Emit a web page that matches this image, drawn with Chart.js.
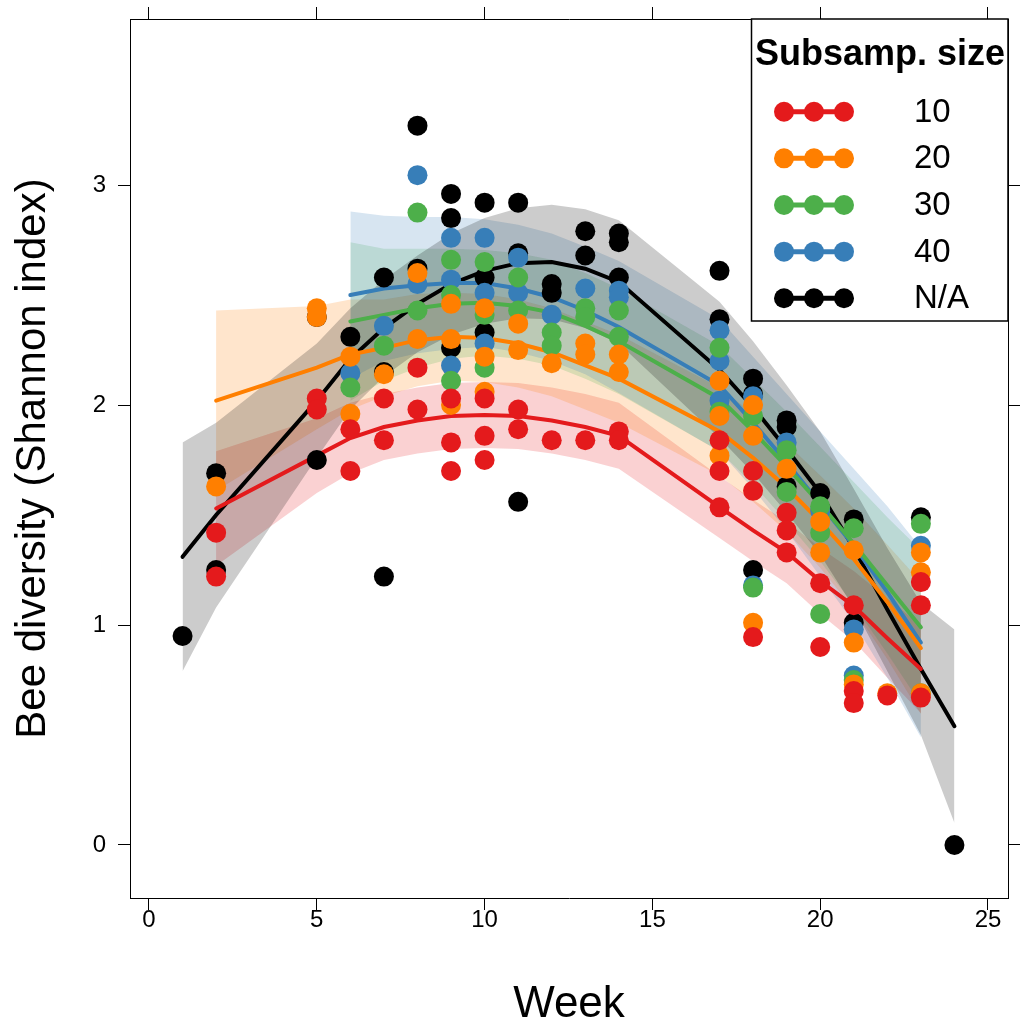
<!DOCTYPE html>
<html><head><meta charset="utf-8">
<script src="https://cdn.jsdelivr.net/npm/chart.js@4.4.0/dist/chart.umd.min.js"></script>
<style>html,body{margin:0;padding:0;background:#fff}#wrap{width:1023px;height:1029px}</style>
</head><body><div id="wrap"><canvas id="c" width="1023" height="1029"></canvas></div>
<script>
// ---------- data ----------
const seriesNames = ['10', '20', '30', '40', 'N/A'];
const seriesColors = ['#E41A1C', '#FF7F00', '#4DAF4A', '#377EB8', '#000000'];
const bandColors = ['rgba(228,26,28,0.2)', 'rgba(255,127,0,0.2)', 'rgba(77,175,74,0.2)', 'rgba(55,126,184,0.2)', 'rgba(0,0,0,0.2)'];
const legendTitle = 'Subsamp. size';
const xTitle = 'Week';
const yTitle = 'Bee diversity (Shannon index)';
const xTickVals = [0, 5, 10, 15, 20, 25];
const yTickVals = [0, 1, 2, 3];

// observed points [week, Shannon index]
const pts10 = [[2,1.42],[2,1.22],[5,2.03],[5,1.98],[6,1.89],[6,1.70],[7,2.03],[7,1.84],[8,2.17],[8,1.98],
  [9,2.03],[9,1.83],[9,1.70],[10,2.03],[10,1.86],[10,1.75],[11,1.98],[11,1.89],[12,1.84],[13,1.84],
  [14,1.88],[14,1.84],[17,1.84],[17,1.70],[17,1.535],[18,1.70],[18,1.61],[18,0.945],[19,1.51],[19,1.43],
  [19,1.33],[20,1.19],[20,0.90],[21,1.09],[21,0.70],[21,0.645],[22,0.68],[23,1.195],[23,1.09],[23,0.67]];
const pts20 = [[2,1.63],[5,2.44],[5,2.40],[6,2.22],[6,1.96],[7,2.14],[8,2.60],[8,2.30],[9,2.46],[9,2.30],
  [9,2.00],[10,2.44],[10,2.22],[10,2.06],[11,2.37],[11,2.25],[12,2.19],[13,2.28],[13,2.23],[14,2.23],
  [14,2.15],[17,2.11],[17,1.95],[17,1.77],[18,2.00],[18,1.86],[18,1.01],[19,1.71],[20,1.47],[20,1.33],
  [21,1.34],[21,0.92],[21,0.73],[22,0.69],[23,1.33],[23,1.24],[23,0.69]];
const pts30 = [[6,2.08],[7,2.27],[8,2.875],[8,2.43],[9,2.66],[9,2.50],[9,2.11],[10,2.65],[10,2.41],[10,2.17],
  [11,2.58],[11,2.43],[12,2.33],[12,2.27],[13,2.44],[13,2.40],[14,2.43],[14,2.31],[17,2.26],[17,1.97],
  [18,1.95],[18,1.17],[19,1.795],[19,1.605],[20,1.54],[20,1.42],[20,1.05],[21,1.44],[21,0.75],[23,1.46],[23,0.69]];
const pts40 = [[6,2.145],[7,2.36],[8,3.045],[8,2.55],[9,2.76],[9,2.57],[9,2.18],[10,2.76],[10,2.51],[10,2.28],
  [11,2.67],[11,2.51],[12,2.41],[13,2.53],[14,2.52],[14,2.49],[17,2.34],[17,2.20],[17,2.02],[18,2.04],
  [18,1.18],[19,1.83],[20,1.52],[21,0.98],[21,0.77],[23,1.36]];
const ptsNA = [[1,0.95],[2,1.69],[2,1.25],[5,2.40],[5,1.75],[6,2.31],[7,2.58],[7,2.15],[7,1.22],[8,3.27],
  [8,2.62],[9,2.96],[9,2.85],[9,2.26],[10,2.92],[10,2.58],[10,2.33],[11,2.92],[11,2.69],[11,1.56],
  [12,2.55],[12,2.51],[13,2.79],[13,2.68],[14,2.78],[14,2.74],[14,2.58],[17,2.61],[17,2.39],[18,2.12],
  [18,2.05],[18,1.25],[19,1.93],[19,1.90],[19,1.63],[20,1.60],[21,1.48],[21,1.01],[23,1.49],[24,0.00]];

// fitted curves and confidence bands
const fitWeeksA = [2,5,6,7,8,9,10,11,12,13,14,17,18,19,20,21,22,23];
const fitWeeksB = [6,7,8,9,10,11,12,13,14,17,18,19,20,21,22,23];
const fitWeeksNA = [1,2,5,6,7,8,9,10,11,12,13,14,17,18,19,20,21,22,23,24];

const fit10 = [1.53,1.77,1.85,1.90,1.93,1.95,1.955,1.95,1.93,1.90,1.86,1.536,1.43,1.33,1.20,1.086,0.94,0.80];
const hi10  = [1.79,1.94,2.01,2.05,2.08,2.10,2.105,2.10,2.08,2.05,2.01,1.676,1.57,1.47,1.35,1.246,1.12,1.00];
const lo10  = [1.27,1.60,1.69,1.75,1.78,1.80,1.805,1.80,1.78,1.75,1.71,1.396,1.29,1.19,1.05,0.926,0.76,0.60];

const fit20 = [2.02,2.17,2.23,2.26,2.295,2.31,2.305,2.28,2.24,2.18,2.12,1.88,1.76,1.625,1.47,1.30,1.105,0.895];
const hi20  = [2.43,2.45,2.48,2.48,2.505,2.51,2.505,2.48,2.44,2.38,2.32,2.08,1.96,1.825,1.68,1.53,1.365,1.195];
const lo20  = [1.61,1.89,1.98,2.04,2.085,2.11,2.105,2.08,2.04,1.98,1.92,1.68,1.56,1.425,1.26,1.07,0.845,0.595];

const fit30 = [2.38,2.41,2.44,2.46,2.465,2.45,2.42,2.36,2.29,2.03,1.88,1.72,1.55,1.37,1.18,0.99];
const hi30  = [2.74,2.71,2.71,2.71,2.705,2.69,2.66,2.60,2.53,2.27,2.12,1.97,1.81,1.65,1.49,1.34];
const lo30  = [2.02,2.11,2.17,2.21,2.225,2.21,2.18,2.12,2.05,1.79,1.64,1.47,1.29,1.09,0.87,0.64];

const fit40 = [2.50,2.53,2.545,2.555,2.555,2.53,2.49,2.43,2.355,2.09,1.92,1.74,1.55,1.36,1.15,0.92];
const hi40  = [2.88,2.86,2.855,2.855,2.845,2.82,2.78,2.72,2.655,2.39,2.22,2.05,1.88,1.71,1.54,1.35];
const lo40  = [2.12,2.20,2.235,2.255,2.265,2.24,2.20,2.14,2.055,1.79,1.62,1.43,1.22,1.01,0.76,0.49];

const fitNA = [1.31,1.50,2.02,2.21,2.35,2.46,2.55,2.61,2.645,2.65,2.62,2.56,2.16,1.99,1.80,1.60,1.35,1.07,0.80,0.54];
const hiNA  = [1.83,1.92,2.28,2.44,2.57,2.68,2.78,2.85,2.895,2.91,2.89,2.84,2.47,2.29,2.09,1.88,1.62,1.35,1.10,0.98];
const loNA  = [0.79,1.08,1.76,1.98,2.13,2.24,2.32,2.37,2.395,2.39,2.35,2.28,1.85,1.69,1.51,1.32,1.08,0.79,0.50,0.10];

// ---------- build ----------
const FONT = '"Liberation Sans", Arial, Helvetica, sans-serif';
const X_MIN = -0.566, X_MAX = 25.596, Y_MIN = -0.241, Y_MAX = 3.755;

const groups = [
  {pts: pts10, weeks: fitWeeksA, fit: fit10, hi: hi10, lo: lo10},
  {pts: pts20, weeks: fitWeeksA, fit: fit20, hi: hi20, lo: lo20},
  {pts: pts30, weeks: fitWeeksB, fit: fit30, hi: hi30, lo: lo30},
  {pts: pts40, weeks: fitWeeksB, fit: fit40, hi: hi40, lo: lo40},
  {pts: ptsNA, weeks: fitWeeksNA, fit: fitNA, hi: hiNA, lo: loNA}
];
const xy = (ws, vs) => ws.map((w, j) => ({x: w, y: vs[j]}));

const datasets = [];
groups.forEach((g, i) => {
  datasets.push({type: 'line', label: 'hi' + i, data: xy(g.weeks, g.hi), borderWidth: 0, pointRadius: 0,
    backgroundColor: bandColors[i], fill: '+1', tension: 0, order: 300 - i});
  datasets.push({type: 'line', label: 'lo' + i, data: xy(g.weeks, g.lo), borderWidth: 0, pointRadius: 0,
    fill: false, tension: 0, order: 300 - i});
});
groups.forEach((g, i) => {
  datasets.push({type: 'line', label: 'fit' + i, data: xy(g.weeks, g.fit), borderColor: seriesColors[i],
    borderWidth: 4, pointRadius: 0, fill: false, tension: 0, borderCapStyle: 'round', order: 100 + i});
});
groups.forEach((g, i) => {
  datasets.push({type: 'scatter', label: seriesNames[i], data: g.pts.map(p => ({x: p[0], y: p[1]})),
    backgroundColor: seriesColors[i], borderWidth: 0, pointRadius: 10, pointHoverRadius: 10, order: i});
});

const gridOpts = {drawOnChartArea: false, drawTicks: true, tickLength: 12, color: '#000', tickColor: '#000', lineWidth: 1};
const borderOpts = {display: true, color: '#000', width: 1};
const noPad = s => { s.paddingTop = 0; s.paddingBottom = 0; s.paddingLeft = 0; s.paddingRight = 0; };

const legendPlugin = {
  id: 'boxLegend',
  afterDraw(chart) {
    const ctx = chart.ctx, a = chart.chartArea;
    const L = 751, T = a.top, R = a.right, B = 321;
    ctx.save();
    ctx.fillStyle = '#fff';
    ctx.fillRect(L, T, R - L, B - T);
    ctx.strokeStyle = '#000'; ctx.lineWidth = 1.5;
    ctx.strokeRect(L + 0.5, T, R - L - 0.5, B - T);
    ctx.fillStyle = '#000';
    ctx.font = 'bold 36px ' + FONT;
    ctx.textAlign = 'center'; ctx.textBaseline = 'middle';
    ctx.fillText(legendTitle, (L + R) / 2 + 0.5, 55);
    seriesNames.forEach((n, i) => {
      const y = 111.7 + i * 46.65;
      ctx.strokeStyle = seriesColors[i]; ctx.lineWidth = 5;
      ctx.beginPath(); ctx.moveTo(784, y); ctx.lineTo(844, y); ctx.stroke();
      ctx.fillStyle = seriesColors[i];
      [784, 814, 844].forEach(cx => { ctx.beginPath(); ctx.arc(cx, y, 10, 0, Math.PI * 2); ctx.fill(); });
      ctx.fillStyle = '#000';
      ctx.font = '33px ' + FONT;
      ctx.textAlign = 'left';
      ctx.fillText(n, 914, y + 1);
    });
    ctx.restore();
  }
};

new Chart(document.getElementById('c'), {
  type: 'scatter',
  data: {datasets},
  options: {
    responsive: false, animation: false, events: [],
    layout: {padding: 0, autoPadding: false},
    plugins: {legend: {display: false}, tooltip: {enabled: false}},
    scales: {
      x: {type: 'linear', position: 'bottom', min: X_MIN, max: X_MAX,
        afterBuildTicks: s => { s.ticks = xTickVals.map(v => ({value: v})); },
        afterFit: s => { s.height = 131; noPad(s); },
        ticks: {color: '#000', font: {size: 24, family: FONT}, padding: -4, maxRotation: 0, autoSkip: false},
        grid: gridOpts, border: borderOpts,
        title: {display: true, text: xTitle, color: '#000', font: {size: 44, family: FONT, lineHeight: 1}, padding: {top: 2, bottom: 2}}},
      x2: {type: 'linear', position: 'top', min: X_MIN, max: X_MAX,
        afterBuildTicks: s => { s.ticks = xTickVals.map(v => ({value: v})); },
        afterFit: s => { s.height = 19; noPad(s); },
        ticks: {display: false}, grid: gridOpts, border: borderOpts},
      y: {type: 'linear', position: 'left', min: Y_MIN, max: Y_MAX,
        afterBuildTicks: s => { s.ticks = yTickVals.map(v => ({value: v})); },
        afterFit: s => { s.width = 130; noPad(s); },
        ticks: {color: '#000', font: {size: 24, family: FONT}, padding: 12, autoSkip: false},
        grid: gridOpts, border: borderOpts,
        title: {display: true, text: yTitle, color: '#000', font: {size: 42, family: FONT, lineHeight: 1}, padding: {top: 12, bottom: 12}}},
      y2: {type: 'linear', position: 'right', min: Y_MIN, max: Y_MAX,
        afterBuildTicks: s => { s.ticks = yTickVals.map(v => ({value: v})); },
        afterFit: s => { s.width = 15; noPad(s); },
        ticks: {display: false}, grid: gridOpts, border: borderOpts}
    }
  },
  plugins: [legendPlugin]
});
</script>
</body></html>
